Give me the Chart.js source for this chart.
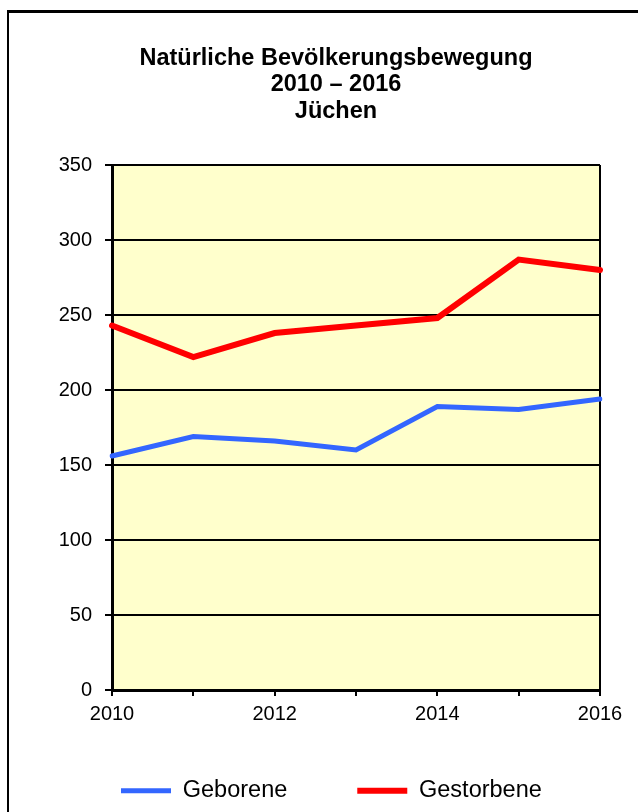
<!DOCTYPE html>
<html>
<head>
<meta charset="utf-8">
<script src="https://cdn.jsdelivr.net/npm/chart.js@4"></script>
<style>
    html, body { margin: 0; padding: 0; background: #fff; overflow: hidden; }
    #wrap { position: relative; width: 638px; height: 812px; }
    #frame { position: absolute; left: 7px; top: 10px; width: 700px; height: 900px;
             border-left: 2px solid #000; border-top: 3px solid #000; }
    canvas { position: absolute; left: 0; top: 0; }
</style>
</head>
<body>
<div id="wrap">
    <div id="frame"></div>
    <canvas id="chart" width="638" height="812"></canvas>
</div>
<script>
const years = ['2010', '2011', '2012', '2013', '2014', '2015', '2016'];
const xTickLabels = ['2010', '', '2012', '', '2014', '', '2016'];
const geborene = [156, 169, 166, 160, 189, 187, 194];
const gestorbene = [243, 222, 238, 243, 248, 287, 280];
const titleLines = ['Natürliche Bevölkerungsbewegung', '2010 – 2016', 'Jüchen'];

const FONT = "'Liberation Sans', Arial, sans-serif";

// yellow plot area behind the lines
const plotBackground = {
    id: 'plotBackground',
    beforeDraw(chart) {
        const { ctx, chartArea: a } = chart;
        ctx.save();
        ctx.fillStyle = '#FFFFCC';
        ctx.fillRect(a.left, a.top, a.width, a.height);
        ctx.restore();
    }
};

// title sits a bit right of centre, legend sits closer to the axis labels
// and gets the full width/height so both entries stay on one row unclipped
const nudge = {
    id: 'nudge',
    afterLayout(chart) {
        const t = chart.titleBlock;
        t.left += 8;
        t.right += 8;
        const l = chart.legend;
        l.top -= 18;
        l.bottom = chart.height;
        l.left -= 5;
        l.right = chart.width;
    }
};

const ctx = document.getElementById('chart').getContext('2d');
new Chart(ctx, {
    type: 'line',
    data: {
        labels: years,
        datasets: [
            {
                label: 'Geborene',
                data: geborene,
                borderColor: '#3366FF',
                backgroundColor: '#3366FF',
                borderWidth: 5,
                borderCapStyle: 'round',
                pointRadius: 0,
                tension: 0
            },
            {
                label: 'Gestorbene',
                data: gestorbene,
                borderColor: '#FF0000',
                backgroundColor: '#FF0000',
                borderWidth: 6,
                borderCapStyle: 'round',
                pointRadius: 0,
                tension: 0
            }
        ]
    },
    options: {
        responsive: false,
        animation: false,
        layout: { padding: { left: 56, right: 38, top: 10, bottom: 0 } },
        plugins: {
            title: {
                display: true,
                text: titleLines,
                color: '#000',
                font: { family: FONT, size: 23.5, weight: 'bold', lineHeight: 1.128 },
                padding: { top: 35, bottom: 40.5 }
            },
            legend: {
                position: 'bottom',
                align: 'start',
                maxHeight: 85,
                labels: {
                    color: '#000',
                    font: { family: FONT, size: 23.5 },
                    usePointStyle: true,
                    pointStyle: 'line',
                    pointStyleWidth: 50,
                    padding: 70
                }
            },
            tooltip: { enabled: false }
        },
        scales: {
            x: {
                afterFit: scale => { scale.height = 37; },
                grid: {
                    color: c => c.index === years.length - 1 ? '#000' : 'rgba(0,0,0,0)',
                    lineWidth: 2,
                    tickColor: '#000',
                    tickLength: 6
                },
                border: { color: '#000', width: 3 },
                ticks: {
                    autoSkip: false,
                    maxRotation: 0,
                    color: '#000',
                    padding: 6,
                    font: { family: FONT, size: 20 },
                    callback: (v, i) => xTickLabels[i]
                }
            },
            y: {
                min: 0,
                max: 350,
                afterFit: scale => { scale.width = 56; },
                grid: {
                    color: '#000',
                    lineWidth: 2,
                    tickColor: '#000',
                    tickLength: 7
                },
                border: { color: '#000', width: 3 },
                ticks: {
                    stepSize: 50,
                    color: '#000',
                    padding: 13,
                    font: { family: FONT, size: 20 }
                }
            }
        }
    },
    plugins: [plotBackground, nudge]
});
</script>
</body>
</html>
